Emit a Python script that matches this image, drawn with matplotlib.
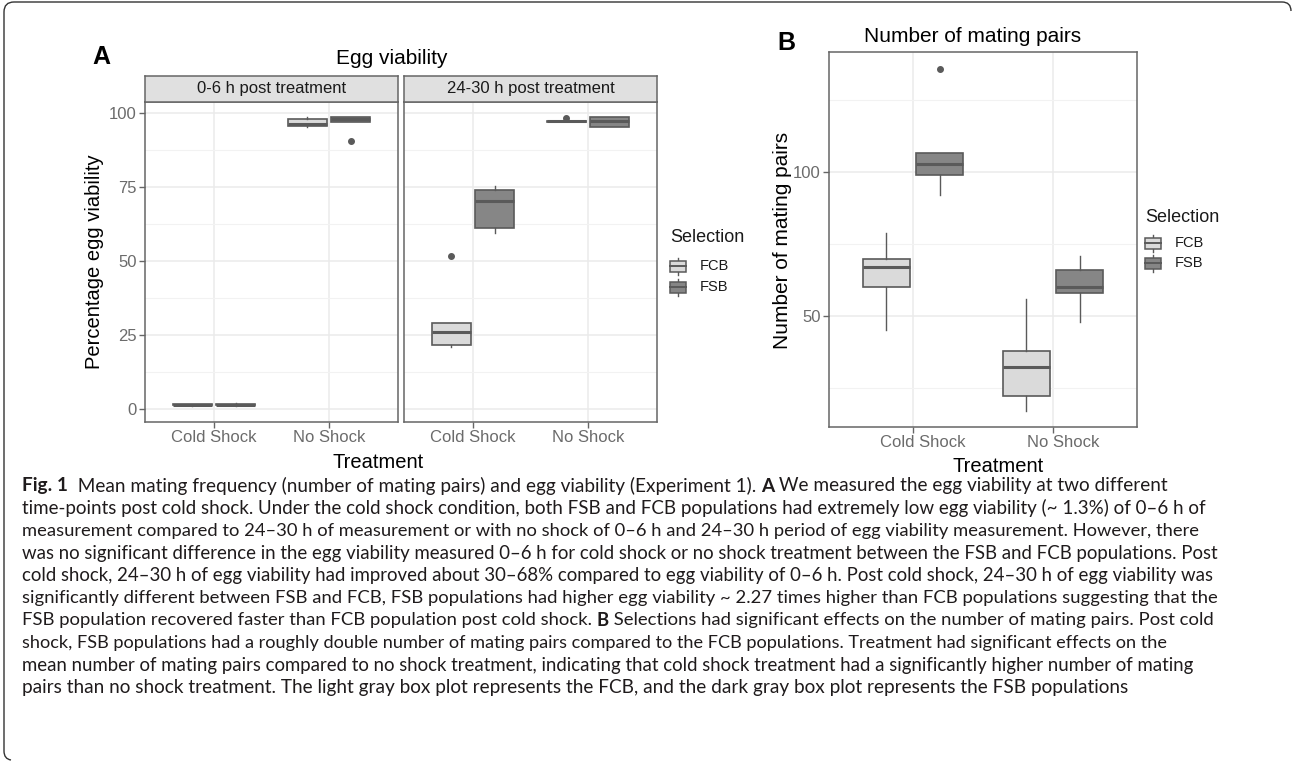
import numpy as np
import matplotlib.pyplot as plt
import matplotlib.transforms as mtrans
from matplotlib.patches import Rectangle, PathPatch
from matplotlib.path import Path

W, H = 1293, 761

treatments = ['Cold Shock', 'No Shock']
selections = ['FCB', 'FSB']
facets = ['0-6 h post treatment', '24-30 h post treatment']

# box stats [whislo, q1, median, q3, whishi] per treatment (Cold Shock, No Shock)
egg_06_fcb = [[1.0, 1.1, 1.3, 1.5, 1.6], [95.1, 95.5, 96.0, 97.9, 98.4]]
egg_06_fsb = [[0.9, 1.2, 1.4, 1.6, 1.9], [97.0, 97.0, 97.8, 98.4, 98.4]]
egg_06_fcb_out = [[], []]
egg_06_fsb_out = [[], [90.5]]

egg_24_fcb = [[20.9, 21.5, 25.9, 29.0, 29.0], [96.9, 96.9, 97.1, 97.3, 97.3]]
egg_24_fsb = [[59.5, 60.9, 70.2, 73.8, 75.1], [95.1, 95.1, 97.3, 98.6, 98.6]]
egg_24_fcb_out = [[51.6], [98.1]]
egg_24_fsb_out = [[], []]

mating_fcb = [[45.1, 60.0, 67.0, 69.9, 78.8], [17.0, 22.1, 32.1, 37.9, 55.8]]
mating_fsb = [[92.1, 99.0, 102.9, 106.8, 106.8], [48.0, 57.9, 60.0, 66.0, 70.9]]
mating_fcb_out = [[], []]
mating_fsb_out = [[135.8], []]

caption = [
    [('Fig. 1', True), ('  Mean mating frequency (number of mating pairs) and egg viability (Experiment 1). ', False),
     ('A', True), (' We measured the egg viability at two different', False)],
    [('time-points post cold shock. Under the cold shock condition, both FSB and FCB populations had extremely low egg viability (~ 1.3%) of 0\u20136 h of', False)],
    [('measurement compared to 24\u201330 h of measurement or with no shock of 0\u20136 h and 24\u201330 h period of egg viability measurement. However, there', False)],
    [('was no significant difference in the egg viability measured 0\u20136 h for cold shock or no shock treatment between the FSB and FCB populations. Post', False)],
    [('cold shock, 24\u201330 h of egg viability had improved about 30\u201368% compared to egg viability of 0\u20136 h. Post cold shock, 24\u201330 h of egg viability was', False)],
    [('significantly different between FSB and FCB, FSB populations had higher egg viability ~ 2.27 times higher than FCB populations suggesting that the', False)],
    [('FSB population recovered faster than FCB population post cold shock. ', False), ('B', True),
     (' Selections had significant effects on the number of mating pairs. Post cold', False)],
    [('shock, FSB populations had a roughly double number of mating pairs compared to the FCB populations. Treatment had significant effects on the', False)],
    [('mean number of mating pairs compared to no shock treatment, indicating that cold shock treatment had a significantly higher number of mating', False)],
    [('pairs than no shock treatment. The light gray box plot represents the FCB, and the dark gray box plot represents the FSB populations', False)],
]
# right end (px) of each caption line in the reference
caption_ends = [1213, 1205, 1200, 1217, 1213, 1213, 1213, 1163, 1196, 1131]

fills = ['#dadada', '#868686']
edge = '#5a5a5a'
plt.rcParams['font.family'] = ['Liberation Sans', 'DejaVu Sans']

fig = plt.figure(figsize=(W / 100, H / 100), dpi=100)


def px(x0, y0, x1, y1):
    return [x0 / W, 1 - y1 / H, (x1 - x0) / W, (y1 - y0) / H]


bg = fig.add_axes([0, 0, 1, 1])
bg.set_xlim(0, W)
bg.set_ylim(H, 0)
bg.axis('off')


def draw_boxes(ax, stats, outs):
    for k in range(len(selections)):
        st = []
        for i in range(len(treatments)):
            lo, q1, med, q3, hi = stats[k][i]
            st.append(dict(whislo=lo, q1=q1, med=med, q3=q3, whishi=hi, fliers=outs[k][i]))
        pos = np.arange(1, len(treatments) + 1) + (k - 0.5) * 0.38
        ax.bxp(st, positions=pos, widths=0.34, patch_artist=True, showcaps=False, manage_ticks=False,
               boxprops=dict(facecolor=fills[k], edgecolor=edge, linewidth=1.2),
               medianprops=dict(color=edge, linewidth=2.2),
               whiskerprops=dict(color=edge, linewidth=1.0),
               flierprops=dict(marker='o', markerfacecolor=edge, markeredgecolor=edge, markersize=4))


def style(ax, ylim, major, minor, fs, show_y=True):
    ax.set_xlim(0.4, 2.6)
    ax.set_ylim(*ylim)
    ax.set_xticks([1, 2])
    ax.set_xticklabels(treatments)
    ax.set_yticks(major)
    ax.set_yticks(minor, minor=True)
    ax.grid(which='major', color='#ebebeb', lw=1.1)
    ax.grid(which='minor', axis='y', color='#f2f2f2', lw=0.8)
    ax.set_axisbelow(True)
    for s in ax.spines.values():
        s.set_color('#666666')
        s.set_linewidth(1.1)
    ax.tick_params(which='major', length=4, width=1, color='#666666', labelcolor='#6b6b6b', labelsize=fs, pad=2)
    ax.tick_params(which='minor', length=0)
    if not show_y:
        ax.tick_params(axis='y', labelleft=False, length=0)


# ---- panel A
a1 = fig.add_axes(px(145, 102, 398, 422))
a2 = fig.add_axes(px(404, 102, 657, 422))
draw_boxes(a1, [egg_06_fcb, egg_06_fsb], [egg_06_fcb_out, egg_06_fsb_out])
draw_boxes(a2, [egg_24_fcb, egg_24_fsb], [egg_24_fcb_out, egg_24_fsb_out])
style(a1, (-4.5, 103.6), [0, 25, 50, 75, 100], [12.5, 37.5, 62.5, 87.5], 12)
style(a2, (-4.5, 103.6), [0, 25, 50, 75, 100], [12.5, 37.5, 62.5, 87.5], 12, show_y=False)

for (x0, x1), lab in zip([(145, 398), (404, 657)], facets):
    sa = fig.add_axes(px(x0, 76, x1, 102))
    sa.set_facecolor('#e0e0e0')
    sa.set_xticks([])
    sa.set_yticks([])
    for s in sa.spines.values():
        s.set_color('#666666')
        s.set_linewidth(1.1)
    sa.text(0.5, 0.5, lab, ha='center', va='center', fontsize=12, color='#1a1a1a', transform=sa.transAxes)

bg.text(101, 57, 'A', fontsize=18, fontweight='bold', ha='center', va='center')
bg.text(392, 58, 'Egg viability', fontsize=15, ha='center', va='center')
bg.text(378, 463, 'Treatment', fontsize=14.5, ha='center', va='center')
bg.text(94, 262, 'Percentage egg viability', fontsize=14.5, ha='center', va='center', rotation=90)

# ---- panel B
b = fig.add_axes(px(829, 52, 1137, 427))
draw_boxes(b, [mating_fcb, mating_fsb], [mating_fcb_out, mating_fsb_out])
style(b, (11.4, 141.8), [50, 100], [25, 75, 125], 12)
shift = mtrans.ScaledTranslation(10 / 100, 0, fig.dpi_scale_trans)
for lab in b.get_xticklabels():
    lab.set_transform(lab.get_transform() + shift)

bg.text(786, 43, 'B', fontsize=18, fontweight='bold', ha='center', va='center')
bg.text(973, 36, 'Number of mating pairs', fontsize=15, ha='center', va='center')
bg.text(998, 467, 'Treatment', fontsize=14.5, ha='center', va='center')
bg.text(782, 240, 'Number of mating pairs', fontsize=15, ha='center', va='center', rotation=90)


# ---- legends
def legend(x, y_title, y_keys):
    bg.text(x, y_title, 'Selection', fontsize=13, va='center', ha='left', color='#1a1a1a')
    for k, sel in enumerate(selections):
        yk = y_keys[k]
        bg.plot([x + 8, x + 8], [yk - 8.5, yk + 8.5], color=edge, lw=1, zorder=2)
        bg.add_patch(Rectangle((x, yk - 5.5), 16, 11, facecolor=fills[k], edgecolor=edge, lw=1.1, zorder=3))
        bg.plot([x, x + 16], [yk, yk], color=edge, lw=1.4, zorder=4)
        bg.text(x + 30, yk, sel, fontsize=10.5, va='center', ha='left', color='#1a1a1a')


legend(670, 237, [266, 287])
legend(1145, 217, [243, 263])

# ---- frame
verts = [(1291, 11), (1291, 2), (1282, 2), (14, 2), (4, 2), (4, 12), (4, 751), (4, 759), (11, 760)]
codes = [Path.MOVETO, Path.CURVE3, Path.CURVE3, Path.LINETO, Path.CURVE3, Path.CURVE3,
         Path.LINETO, Path.CURVE3, Path.CURVE3]
bg.add_patch(PathPatch(Path(verts, codes), facecolor='none', edgecolor='#333333', lw=1.0))

# ---- caption: size each line toward the reference line end, kept near a common size
cap_font = ['Lato', 'DejaVu Sans']
renderer = fig.canvas.get_renderer()
x_start = 22
sizes = []
for line, x_end in zip(caption, caption_ends):
    w10 = 0
    for txt, bold in line:
        t = bg.text(0, 0, txt, fontsize=10, family=cap_font, fontweight='bold' if bold else 'normal')
        w10 += t.get_window_extent(renderer).width
        t.remove()
    sizes.append(10 * (x_end - x_start) / w10)
base = float(np.median(sizes))
sizes = np.clip(sizes, base * 0.975, base * 1.025)

y = 486
for line, fs in zip(caption, sizes):
    x = x_start
    for txt, bold in line:
        t = bg.text(x, y, txt, fontsize=fs, family=cap_font, fontweight='bold' if bold else 'normal',
                    va='center', ha='left', color='#1f1b1c')
        x += t.get_window_extent(renderer).width
    y += 22.4

fig.savefig('out.png', dpi=100)
